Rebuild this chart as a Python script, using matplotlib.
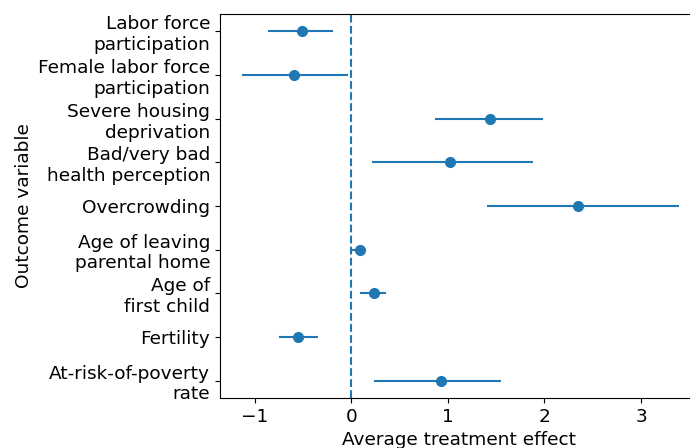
import matplotlib.pyplot as plt

# outcome variables, top to bottom
outcomes = ['Labor force\nparticipation', 'Female labor force\nparticipation',
            'Severe housing\ndeprivation', 'Bad/very bad\nhealth perception',
            'Overcrowding', 'Age of leaving\nparental home', 'Age of\nfirst child',
            'Fertility', 'At-risk-of-poverty\nrate']
ate = [-0.51, -0.59, 1.44, 1.02, 2.35, 0.09, 0.23, -0.55, 0.93]
ci_low = [-0.86, -1.13, 0.87, 0.21, 1.40, 0.01, 0.09, -0.75, 0.23]
ci_high = [-0.19, -0.03, 1.98, 1.88, 3.39, 0.14, 0.36, -0.35, 1.55]

err_lo = [a - l for a, l in zip(ate, ci_low)]
err_hi = [h - a for a, h in zip(ate, ci_high)]
y = list(range(len(outcomes)))

fig = plt.figure(figsize=(6.9, 4.48), dpi=100)
ax = fig.add_axes([220 / 690, 50 / 448, 479 / 690, 384 / 448])

ax.errorbar(ate, y, xerr=[err_lo, err_hi], fmt='o', color='tab:blue', markersize=7)
ax.axvline(0, color='tab:blue', linestyle='--')

ax.set_yticks(y)
ax.set_yticklabels(outcomes)
ax.invert_yaxis()
ax.set_xlim(-1.36, 3.6)
ax.set_xticks([-1, 0, 1, 2, 3])
ax.tick_params(labelsize=13.3)
ax.set_xlabel('Average treatment effect', fontsize=13.3)
ax.set_ylabel('Outcome variable', fontsize=13.3)

plt.savefig('out.png', dpi=100)
